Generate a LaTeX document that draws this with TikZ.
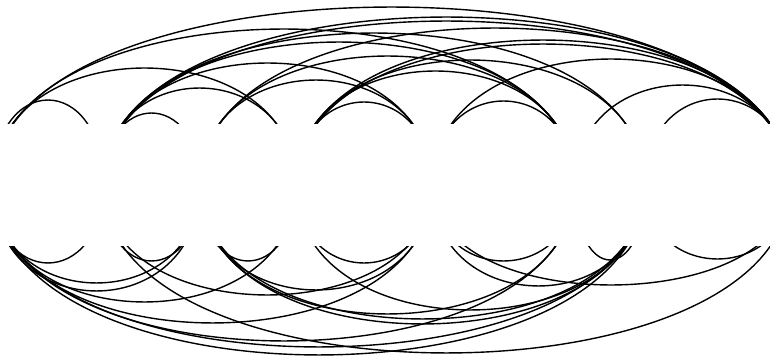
\documentclass[tikz,border=0pt]{standalone}
\begin{document}
\begin{tikzpicture}[x=1pt, y=1pt, link/.style={black, line width=1.4pt}]
  \clip (0,0) rectangle (770,358);
  % positions on the axis
  \foreach \n/\x in {0/-7,1/103,2/200,3/296,4/432,5/575,6/645,7/790}
    \coordinate (p\n) at (\x,173);
  % arcs above the axis: from/to/height
  \foreach \a/\b/\h in {0/1/85,0/3/117,0/5/156,0/7/178,
      1/2/72,1/3/97,1/4/122,1/5/143,1/6/152,1/7/168,1/7/164,
      2/4/105,2/5/129,2/7/157,
      3/4/83,3/5/114,3/6/125,3/7/145,3/7/141,
      4/5/84,4/7/126,5/7/100,6/7/86}
    \draw[link] (p\a) .. controls +(0,1.333*\h) and +(0,1.333*\h) .. (p\b);
  % arcs below the axis: from/to/depth
  \foreach \a/\b/\h in {0/1/78,0/2/98,0/2/106,0/3/117,0/4/138,0/5/156,0/6/170,0/6/162,
      1/2/76,1/4/110,1/7/168,
      2/3/76,2/4/105,2/5/129,2/6/139,2/6/134,
      3/4/78,3/6/125,
      4/5/76,4/6/101,4/7/100,5/6/75,6/7/74}
    \draw[link] (p\a) .. controls +(0,-1.333*\h) and +(0,-1.333*\h) .. (p\b);
  % blank band over the axis
  \fill[white] (0,112) rectangle (770,234);
\end{tikzpicture}
\end{document}
